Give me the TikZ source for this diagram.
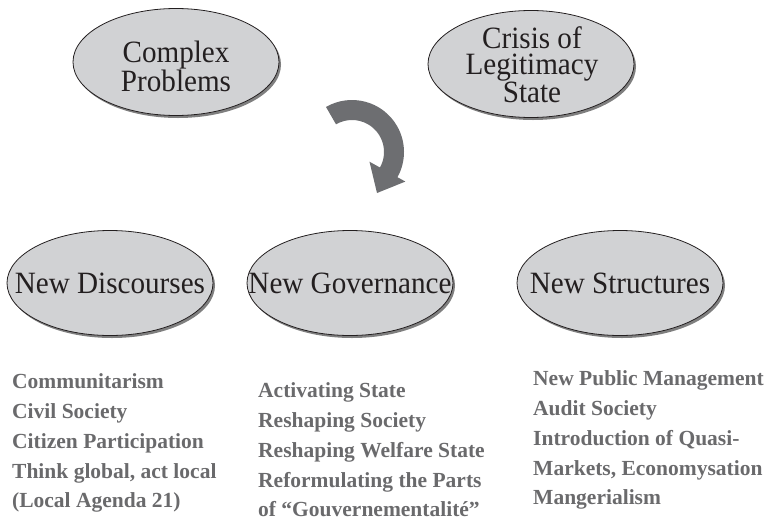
\documentclass[tikz,border=0pt]{standalone}
\usepackage{fontspec}
\setmainfont{Liberation Serif}
\newfontfamily\bubblefont[FakeStretch=0.94]{Liberation Serif}
\usetikzlibrary{shapes.geometric,shadows}
\definecolor{inkdark}{HTML}{231F20}
\definecolor{bubblefill}{HTML}{D1D2D4}
\definecolor{arrowgray}{HTML}{6D6E71}
\definecolor{listgray}{HTML}{6A6A6C}
\begin{document}
\begin{tikzpicture}[x=1pt,y=-1pt,
  bubble/.style={ellipse, draw=inkdark, line width=0.8pt, fill=bubblefill, inner sep=0pt,
    drop shadow={shadow xshift=2pt, shadow yshift=-2.5pt, fill=black, opacity=0.5}},
  topbubble/.style={bubble, minimum width=206pt, minimum height=107pt},
  rowbubble/.style={bubble, minimum width=206pt, minimum height=105pt},
  bubbletext/.style={font=\bubblefont\fontsize{31}{27}\selectfont, text=inkdark, align=center, inner sep=0pt},
  itemlist/.style={font=\fontsize{21.5}{29.8}\selectfont\bfseries, text=listgray, align=left, inner sep=0pt, anchor=north west}]
\useasboundingbox (0,0) rectangle (768,528);

% upper pair of causes
\node[topbubble] (complex) at (176,62) {};
\node[bubbletext] (complextxt) at (176,66) {Complex\\Problems};
\node[topbubble] (crisis) at (531,64) {};
\node[bubbletext, font=\bubblefont\fontsize{31}{25.5}\selectfont] (crisistxt) at (532,65) {Crisis of\\Legitimacy\\State};

% turning arrow
\coordinate (pivot) at (352,152);
\fill[arrowgray, shift={(pivot)}]
  (-120:52) arc[start angle=-120, end angle=29, radius=52]
  -- (29:61) -- (25,41) -- (29:20) -- (29:32)
  arc[start angle=29, end angle=-120, radius=32] -- cycle;

% lower row of responses
\node[rowbubble] (discourses) at (110,283) {};
\node[bubbletext, anchor=base] (discoursestxt) at (110,293) {New Discourses};
\node[rowbubble] (governance) at (350,283) {};
\node[bubbletext, anchor=base] (governancetxt) at (350,293) {New Governance};
\node[rowbubble] (structures) at (620,283) {};
\node[bubbletext, anchor=base] (structurestxt) at (620,293) {New Structures};

% item lists under each response
\node[itemlist] (discourseitems) at (12,373.5)
  {Communitarism\\Civil Society\\Citizen Participation\\Think global, act local\\(Local Agenda 21)};
\node[itemlist] (governanceitems) at (258,382.5)
  {Activating State\\Reshaping Society\\Reshaping Welfare State\\Reformulating the Parts\\of “Gouvernementalité”};
\node[itemlist] (structureitems) at (533,370.5)
  {New Public Management\\Audit Society\\Introduction of Quasi-\\Markets, Economysation\\Mangerialism};
\end{tikzpicture}
\end{document}
